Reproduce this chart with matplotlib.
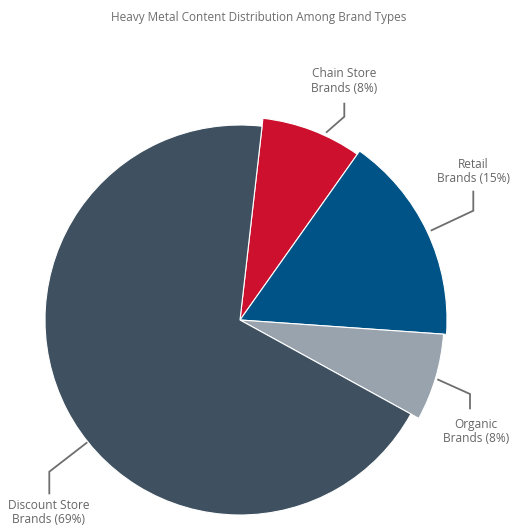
import matplotlib
matplotlib.use("Agg")
import matplotlib.pyplot as plt

title = "Heavy Metal Content Distribution Among Brand Types"
categories = ["Chain Store Brands", "Retail Brands", "Organic Brands", "Discount Store Brands"]
label_text = ["Chain Store\nBrands (8%)", "Retail\nBrands (15%)", "Organic\nBrands (8%)", "Discount Store\nBrands (69%)"]
values = [8.0, 16.3, 6.9, 68.8]          # slice sizes as drawn
colors = ["#cc102d", "#005386", "#98a3ae", "#3f5161"]
radii = [203, 207, 204, 195]

H = 527
def Y(y):
    return H - y

plt.rcParams['font.family'] = ['Open Sans', 'DejaVu Sans']
fig = plt.figure(figsize=(5.12, 5.27), dpi=100)
ax = fig.add_axes([0, 0, 1, 1])
cx, cy = 240, Y(320)
wedges, _ = ax.pie(values, colors=colors, startangle=90 - 6.5, counterclock=False,
                   radius=207, center=(cx, cy),
                   wedgeprops=dict(edgecolor='white', linewidth=0.8))
for w, r in zip(wedges, radii):
    w.set_radius(r)

# leader lines (pixel layout): start, elbow, end ; text position
leaders = [
    [(326, 132.7), (344.3, 116.7), (344.3, 102.7)],
    [(430.7, 230.7), (473.3, 210.7), (473.3, 190.7)],
    [(437.3, 379.3), (470, 394), (470, 409.3)],
    [(87.3, 442.3), (49.3, 471.7), (49.3, 494.3)],
]
text_pos = [(344, 81), (473.5, 171.5), (476, 431.5), (49, 512.5)]
lc = "#6e6e6e"
for pts, tp, lab in zip(leaders, text_pos, label_text):
    ax.plot([p[0] for p in pts], [Y(p[1]) for p in pts], color=lc, lw=1.3,
            solid_joinstyle='miter', solid_capstyle='butt')
    ax.text(tp[0], Y(tp[1]), lab, ha='center', va='center', color="#666666",
            fontsize=8.6, linespacing=1.15)

ax.text(258.7, Y(17.3), title, ha='center', va='center', color="#6e6e6e", fontsize=8.5)

ax.set_xlim(0, 512)
ax.set_ylim(0, H)
ax.set_aspect('auto')
ax.axis('off')
fig.savefig("out.png", dpi=100, facecolor='white')
